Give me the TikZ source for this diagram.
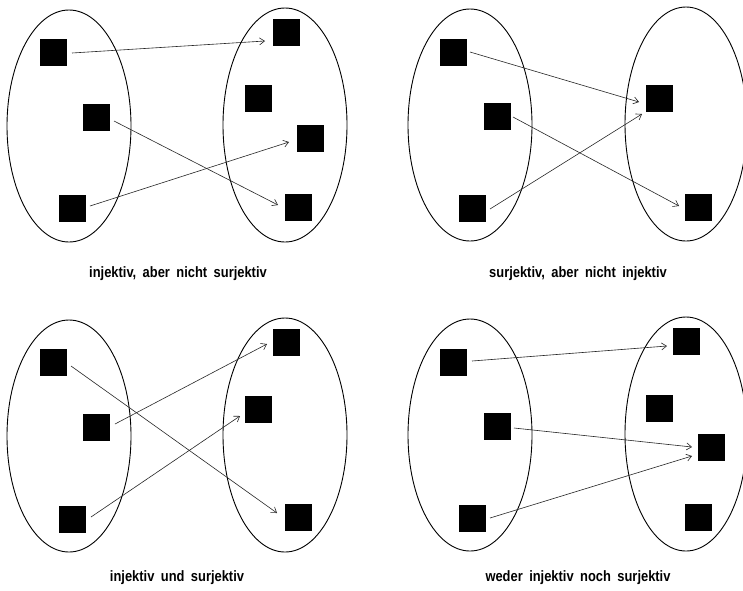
\documentclass[tikz,border=0pt]{standalone}
\usepackage{fontspec}
\usetikzlibrary{arrows.meta}
\newfontfamily\labfont[FakeStretch=0.86,WordSpace={1.8}]{Liberation Sans Bold}
\begin{document}
\begin{tikzpicture}[x=1pt,y=-1pt,
  elem/.style={fill=black,draw=none,minimum size=27pt,inner sep=0pt,outer sep=0pt},
  arr/.style={draw=black!85,line width=0.6pt,-{Straight Barb[length=5pt,width=7pt]}},
  setline/.style={line width=0.9pt},
  caption/.style={font=\labfont\fontsize{15}{17}\selectfont,inner sep=0pt,anchor=base}]
\useasboundingbox[fill=white] (0,0) rectangle (743,590);
% ---------- Panel 1
\draw[setline] (69,126) ellipse [x radius=62, y radius=116];
\draw[setline] (285,125) ellipse [x radius=62, y radius=117];
\node[elem] (pa1) at (53,52) {};
\node[elem] (pa2) at (96,117) {};
\node[elem] (pa3) at (72,208) {};
\node[elem] (pb1) at (286,32) {};
\node[elem] (pb2) at (258,98) {};
\node[elem] (pb3) at (310,138) {};
\node[elem] (pb4) at (298,207) {};
\draw[arr] ([xshift=5.5pt,yshift=-1pt]pa1.east) -- ([xshift=-7.5pt,yshift=-9pt]pb1.west);
\draw[arr] ([xshift=4.5pt,yshift=-4pt]pa2.east) -- ([xshift=-6.5pt,yshift=2pt]pb4.west);
\draw[arr] ([xshift=4.5pt,yshift=2pt]pa3.east) -- ([xshift=-7.5pt,yshift=-4pt]pb3.west);
\node[caption] (pcap) at (178,277) {injektiv, aber nicht surjektiv};
% ---------- Panel 2
\draw[setline] (470,125) ellipse [x radius=62, y radius=116];
\draw[setline] (686,124) ellipse [x radius=61, y radius=117];
\node[elem] (qa1) at (453,52) {};
\node[elem] (qa2) at (497,116) {};
\node[elem] (qa3) at (472,208) {};
\node[elem] (qb1) at (659,98) {};
\node[elem] (qb2) at (698,207) {};
\draw[arr] ([xshift=3.5pt]qa1.east) -- ([xshift=-6.5pt,yshift=-4pt]qb1.west);
\draw[arr] ([xshift=2.5pt,yshift=-1pt]qa2.east) -- ([xshift=-5.5pt,yshift=1pt]qb2.west);
\draw[arr] ([xshift=4.5pt,yshift=-1pt]qa3.east) -- ([xshift=-3.5pt,yshift=-16pt]qb1.west);
\node[caption] (qcap) at (578,277) {surjektiv, aber nicht injektiv};
% ---------- Panel 3
\draw[setline] (69,436) ellipse [x radius=62, y radius=116];
\draw[setline] (285,435) ellipse [x radius=62, y radius=117];
\node[elem] (ra1) at (53,362) {};
\node[elem] (ra2) at (96,427) {};
\node[elem] (ra3) at (72,519) {};
\node[elem] (rb1) at (286,342) {};
\node[elem] (rb2) at (258,409) {};
\node[elem] (rb3) at (298,517) {};
\draw[arr] ([xshift=4.5pt,yshift=-4pt]ra1.east) -- ([xshift=-7.5pt,yshift=4pt]rb3.west);
\draw[arr] ([xshift=5.5pt,yshift=3pt]ra2.east) -- ([xshift=-5.5pt,yshift=-2pt]rb1.west);
\draw[arr] ([xshift=5.5pt,yshift=2pt]ra3.east) -- ([xshift=-4.5pt,yshift=-7pt]rb2.west);
\node[caption] (rcap) at (177,581) {injektiv und surjektiv};
% ---------- Panel 4
\draw[setline] (470,435) ellipse [x radius=62, y radius=116];
\draw[setline] (686,434) ellipse [x radius=61, y radius=117];
\node[elem] (sa1) at (453,362) {};
\node[elem] (sa2) at (497,426) {};
\node[elem] (sa3) at (472,518) {};
\node[elem] (sb1) at (686,341) {};
\node[elem] (sb2) at (659,408) {};
\node[elem] (sb3) at (711,447) {};
\node[elem] (sb4) at (698,517) {};
\draw[arr] ([xshift=5.5pt,yshift=1pt]sa1.east) -- ([xshift=-5.5pt,yshift=-5pt]sb1.west);
\draw[arr] ([xshift=3.5pt,yshift=-2pt]sa2.east) -- ([xshift=-5.5pt]sb3.west);
\draw[arr] ([xshift=4.5pt]sa3.east) -- ([xshift=-5.5pt,yshift=-9pt]sb3.west);
\node[caption] (scap) at (578,581) {weder injektiv noch surjektiv};
\end{tikzpicture}
\end{document}
